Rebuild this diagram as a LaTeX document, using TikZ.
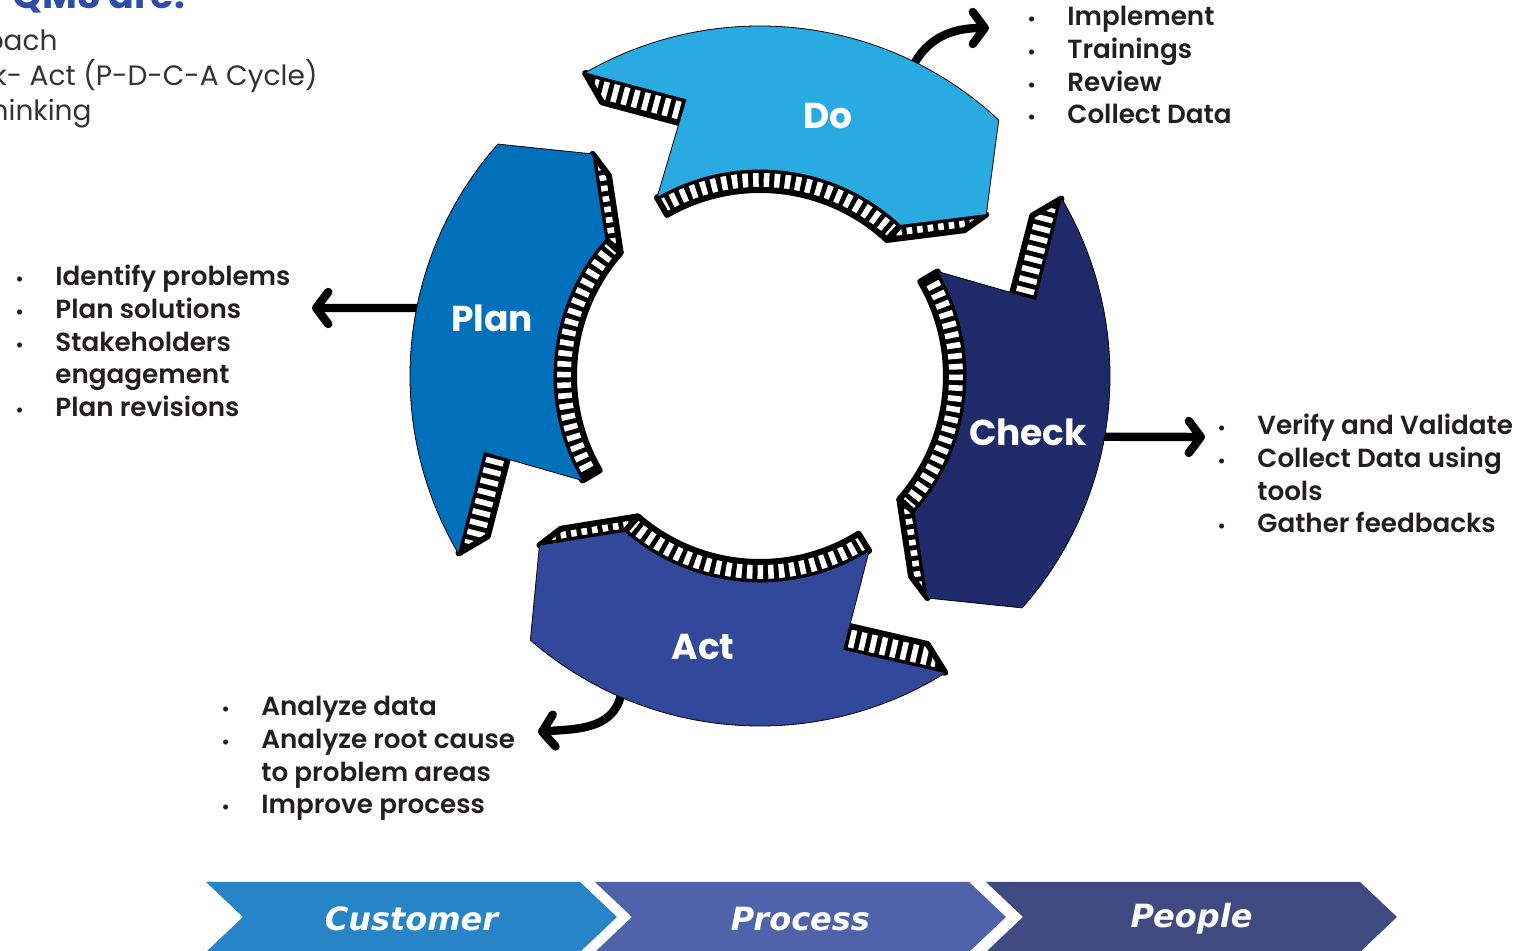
\documentclass[tikz,border=0pt]{standalone}
\usepackage{fontspec}
\setmainfont{Poppins}
\newfontfamily\semibold{Poppins SemiBold}
\newfontfamily\chevfont{DejaVu Sans Bold Oblique}
\usetikzlibrary{arrows.meta}

\definecolor{doblue}{HTML}{29ABE2}
\definecolor{planblue}{HTML}{0070BA}
\definecolor{checkblue}{HTML}{1F2A6A}
\definecolor{actblue}{HTML}{32489B}
\definecolor{custblue}{HTML}{2784C7}
\definecolor{procblue}{HTML}{4F63AA}
\definecolor{peopblue}{HTML}{3E4A80}
\definecolor{titleblue}{HTML}{2F4DA6}
\definecolor{greytext}{HTML}{333333}
\definecolor{listtext}{HTML}{231F20}

\tikzset{
    seglabel/.style={text=white, inner sep=0pt, font=\fontsize{18}{21}\selectfont\bfseries},
    stripes/.style={white, line width=20pt, dash pattern=on 2.8pt off 2.5pt},
    wallrim/.style={black, line width=3pt, line join=round},
    callout/.style={line width=4.2pt, line cap=round, -{Straight Barb[round, length=6pt, width=16pt]}},
    listnode/.style={anchor=base west, inner sep=0pt, text=listtext, font=\semibold\fontsize{13.1}{16.3}\selectfont},
    notetext/.style={anchor=base east, inner sep=0pt, text=greytext, font=\fontsize{14}{16}\selectfont},
    chevtext/.style={text=white, inner sep=0pt, font=\chevfont\fontsize{16}{18}\selectfont}
}

% side wall of a segment: black band with white cross stripes
\newcommand{\wallband}[2]{%
    \begin{scope}
        \clip #1;
        \fill[black] #1;
        \draw[stripes] #2;
    \end{scope}
    \draw[wallrim] #1;}

\newcommand{\itemdot}{{\fontsize{9}{9}\selectfont\textbullet}}
\newcommand{\pointlist}[1]{\begin{tabular}[t]{@{}p{20pt}@{}l@{}}#1\end{tabular}}

\begin{document}
\begin{tikzpicture}[x=0.5pt, y=0.5pt]
\useasboundingbox (-760,376) rectangle (757,-575);

% heading and intro lines, running off the page
\node[anchor=base west, inner sep=0pt, text=titleblue, font=\fontsize{19}{22}\selectfont\bfseries] (title) at (-748,367) {QMS are:};
\node[notetext] (note1) at (-702,325) {Process Approach};
\node[notetext] (note2) at (-442,290) {Plan- Do- Check- Act (P-D-C-A Cycle)};
\node[notetext] (note3) at (-668,255) {Risk-based thinking};

% arrows out to the lists
\coordinate (planfoot) at (168.8:350);
\coordinate (planend) at (-448,68);
\coordinate (dofoot) at (63.7:350);
\coordinate (doend) at (229,348);
\coordinate (checkfoot) at (-10:350);
\coordinate (checkend) at (445,-61);
\coordinate (actfoot) at (246.5:350);
\coordinate (actend) at (-222,-356);
\draw[callout] (planfoot) -- (planend);
\draw[callout] (dofoot) to[out=60, in=180] (doend);
\draw[callout] (checkfoot) -- (checkend);
\draw[callout] (actfoot) to[out=-105, in=5] (actend);

% the four segments: tail angle / head angle / colour
\foreach \tail/\head/\col in {210.5/138.5/planblue, 120/47/doblue, 30.5/-41.5/checkblue, -58/-131/actblue}{
    \pgfmathsetmacro{\tip}{\head-11.5}
    \pgfmathsetmacro{\nch}{\tail-15}
    \wallband{(\head:206) arc[start angle=\head, end angle=\tail, radius=206] -- (\tail:186) arc[start angle=\tail, end angle=\head, radius=186] -- cycle}{(\head:196) arc[start angle=\head, end angle=\tail, radius=196]}
    \wallband{(\tip:278) -- (\head:206) -- (\head:186) -- (\tip:251) -- cycle}{(\tip:264.5) -- (\head:196)}
    \wallband{(\nch:286) -- (\tail:350) -- (\tail:316) -- (\nch:258) -- cycle}{(\nch:272) -- (\tail:333)}
    \filldraw[fill=\col, draw=black, line width=0.4pt] (\tail:350) arc[start angle=\tail, end angle=\head, radius=350] -- (\tip:278) -- (\head:206) arc[start angle=\head, end angle=\tail, radius=206] -- (\nch:286) -- cycle;
}

\node[seglabel] (plan) at (-268,58) {Plan};
\node[seglabel] (do) at (68,260) {Do};
\node[seglabel] (check) at (268,-56) {Check};
\node[seglabel] (act) at (-57,-271) {Act};

% bullet lists
\node[listnode] (planlist) at (-745,90) {\pointlist{\itemdot & Identify problems\\ \itemdot & Plan solutions\\ \itemdot & Stakeholders\\ & engagement\\ \itemdot & Plan revisions}};
\node[listnode] (dolist) at (267,350) {\pointlist{\itemdot & Implement\\ \itemdot & Trainings\\ \itemdot & Review\\ \itemdot & Collect Data}};
\node[listnode] (checklist) at (457,-59) {\pointlist{\itemdot & Verify and Validate\\ \itemdot & Collect Data using\\ & tools\\ \itemdot & Gather feedbacks}};
\node[listnode] (actlist) at (-539,-340) {\pointlist{\itemdot & Analyze data\\ \itemdot & Analyze root cause\\ & to problem areas\\ \itemdot & Improve process}};

% bottom banner
\foreach \x/\col/\name/\txt in {-554/custblue/customer/Customer, -165/procblue/process/Process, 226/peopblue/people/People}{
    \fill[\col] (\x,-506) -- ++(374,0) -- ++(37,-35) -- ++(-37,-35) -- ++(-374,0) -- ++(37,35) -- cycle;
    \node[chevtext] (\name) at (\x+205.5,-543) {\txt};
}
\end{tikzpicture}
\end{document}
